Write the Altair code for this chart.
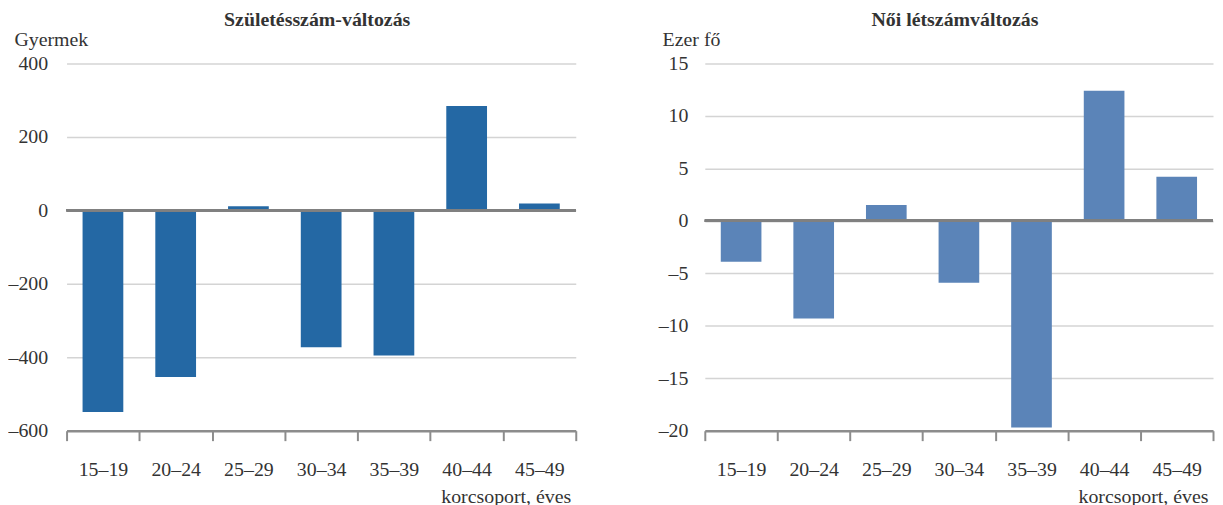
import altair as alt
import pandas as pd

cats = ["15–19", "20–24", "25–29", "30–34", "35–39", "40–44", "45–49"]
births = [-549, -454, 11, -373, -395, 284, 19]
women = [-3.9, -9.3, 1.5, -5.9, -19.7, 12.4, 4.2]

FONT = "Liberation Serif"
TXT = "#333333"
FS = 20


def panel(values, title, ytitle, domain, step, color, titlex, lpad, w):
    df = pd.DataFrame({"cat": cats, "v": values})
    ticks = list(range(domain[0], domain[1] + 1, step))
    x = alt.X(
        "cat:N", sort=cats,
        scale=alt.Scale(paddingInner=0, paddingOuter=0),
        axis=alt.Axis(
            title="korcsoport, éves", titleAnchor="end", titleAlign="right", titleX=w - 5,
            titleFont=FONT, titleFontSize=FS, titleFontWeight="normal", titleColor=TXT,
            titlePadding=7,
            labelAngle=0, labelFont=FONT, labelFontSize=FS, labelColor=TXT, labelPadding=19,
            tickBand="extent", tickSize=10, tickWidth=2, tickColor="#8c8c8c",
            domainColor="#8c8c8c", domainWidth=2.5, grid=False,
        ),
    )
    y = alt.Y(
        "v:Q",
        scale=alt.Scale(domain=domain, nice=False, zero=False),
        axis=alt.Axis(
            values=ticks, title=ytitle, titleAngle=0, titleX=titlex, titleY=-18,
            titleAlign="left", titleBaseline="alphabetic",
            titleFont=FONT, titleFontSize=FS, titleFontWeight="normal", titleColor=TXT,
            labelFont=FONT, labelFontSize=FS, labelColor=TXT, labelPadding=lpad,
            labelExpr="replace(datum.label, '−', '–')",
            domain=False, ticks=False, gridColor="#d4d4d4", gridWidth=1.5,
        ),
    )
    bars = alt.Chart(df).mark_bar(color=color, width=alt.RelativeBandSize(0.56)).encode(x=x, y=y)
    zero = alt.Chart(df).mark_rule(color="#808080", strokeWidth=2.5).encode(y=alt.datum(0))
    return alt.layer(bars, zero).properties(
        width=w, height=370,
        title=alt.TitleParams(title, font=FONT, fontSize=FS, fontWeight="bold", color=TXT,
                              anchor="middle", frame="group", dx=-4, offset=0),
    )


left = panel(births, "Születésszám-változás", "Gyermek", [-600, 400], 200, "#2468a4", -53, 19, 513)
right = panel(women, "Női létszámváltozás", "Ezer fő", [-20, 15], 5, "#5b84b8", -43, 17, 512)

chart = alt.hconcat(left, right, spacing=81).properties(
    padding={"left": 0, "top": 0, "right": 0, "bottom": 0}
).configure_view(stroke=None)

chart.save("out.html", embed_options={"renderer": "svg", "actions": False})
